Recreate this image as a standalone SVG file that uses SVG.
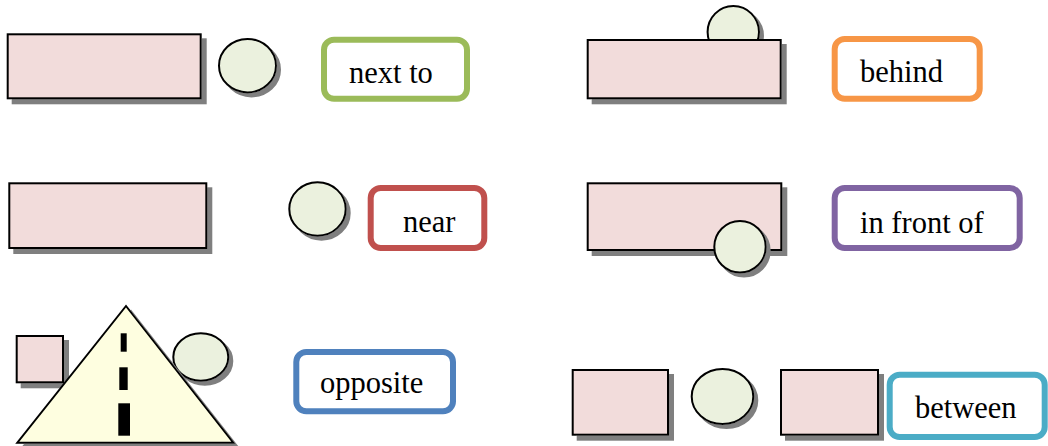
<svg xmlns="http://www.w3.org/2000/svg" width="1048" height="446" viewBox="0 0 1048 446">
<defs>
<filter id="sh" x="-20%" y="-20%" width="140%" height="140%">
<feFlood flood-color="#7f7f7f"/>
<feComposite in2="SourceAlpha" operator="in"/>
<feOffset dx="5" dy="5"/>
<feMerge><feMergeNode/><feMergeNode in="SourceGraphic"/></feMerge>
</filter>
<filter id="shc" x="-20%" y="-20%" width="140%" height="140%">
<feFlood flood-color="#7f7f7f"/>
<feComposite in2="SourceAlpha" operator="in"/>
<feOffset dx="4" dy="4"/>
<feMerge><feMergeNode/><feMergeNode in="SourceGraphic"/></feMerge>
</filter>
</defs>
<style>
.box{fill:#F2DCDB;stroke:#000;stroke-width:2;filter:url(#sh)}
.ball{fill:#EBF1DE;stroke:#000;stroke-width:2;filter:url(#shc)}
.lbl{fill:#fff;stroke-width:6}
.t{font-size:30.5px;fill:#000}
</style>
<g id="next-to">
<rect class="box" x="7.7" y="34.3" width="193" height="64"/>
<ellipse class="ball" cx="247.5" cy="65.7" rx="28.5" ry="26.7"/>
<rect class="lbl" x="324" y="39.7" width="143" height="59" rx="10" stroke="#9BBB59"/>
<text class="t" font-family="Liberation Serif, Times New Roman, serif" x="349" y="83.3">next to</text>
</g>
<g id="behind">
<ellipse class="ball" cx="733.3" cy="32" rx="25.7" ry="26"/>
<rect class="box" x="587.7" y="40" width="193" height="58.3"/>
<rect class="lbl" x="834.7" y="39" width="145" height="59.7" rx="10" stroke="#F79646"/>
<text class="t" font-family="Liberation Serif, Times New Roman, serif" x="860" y="82">behind</text>
</g>
<g id="near">
<rect class="box" x="9.3" y="183.3" width="197" height="64.7"/>
<ellipse class="ball" cx="317.5" cy="209" rx="28.2" ry="26.7"/>
<rect class="lbl" x="370.7" y="188" width="113.6" height="60" rx="10" stroke="#C0504D"/>
<text class="t" font-family="Liberation Serif, Times New Roman, serif" x="403" y="232.3">near</text>
</g>
<g id="in-front-of">
<rect class="box" x="587.7" y="183.3" width="193.6" height="66.7"/>
<ellipse class="ball" cx="740" cy="246.8" rx="25.7" ry="25.8"/>
<rect class="lbl" x="834.7" y="188" width="185" height="60" rx="10" stroke="#8064A2"/>
<text class="t" font-family="Liberation Serif, Times New Roman, serif" x="860" y="233">in front of</text>
</g>
<g id="opposite">
<rect class="box" x="16.7" y="336" width="46.3" height="46.3"/>
<ellipse class="ball" cx="200.8" cy="357" rx="27.5" ry="23.7"/>
<polygon points="126,306 17.3,442.7 233.3,442.7" fill="#FEFEE0" stroke="#000" stroke-width="2" filter="url(#sh)"/>
<rect x="120.7" y="333.3" width="6" height="18.4" fill="#000"/>
<rect x="119.3" y="367.3" width="8.4" height="22.7" fill="#000"/>
<rect x="118.3" y="403.3" width="11.7" height="32.4" fill="#000"/>
<rect class="lbl" x="296.3" y="352" width="156.7" height="59.3" rx="10" stroke="#4F81BD"/>
<text class="t" font-family="Liberation Serif, Times New Roman, serif" x="320" y="393">opposite</text>
</g>
<g id="between">
<rect class="box" x="572.7" y="370" width="95.3" height="64.7"/>
<ellipse class="ball" cx="722.5" cy="396.5" rx="30.8" ry="27.5"/>
<rect class="box" x="781" y="370" width="97" height="64.7"/>
<rect class="lbl" x="889.7" y="374.7" width="155" height="62.3" rx="10" stroke="#4BACC6"/>
<text class="t" font-family="Liberation Serif, Times New Roman, serif" x="915" y="418">between</text>
</g>
<g id="connectors"/>
</svg>
